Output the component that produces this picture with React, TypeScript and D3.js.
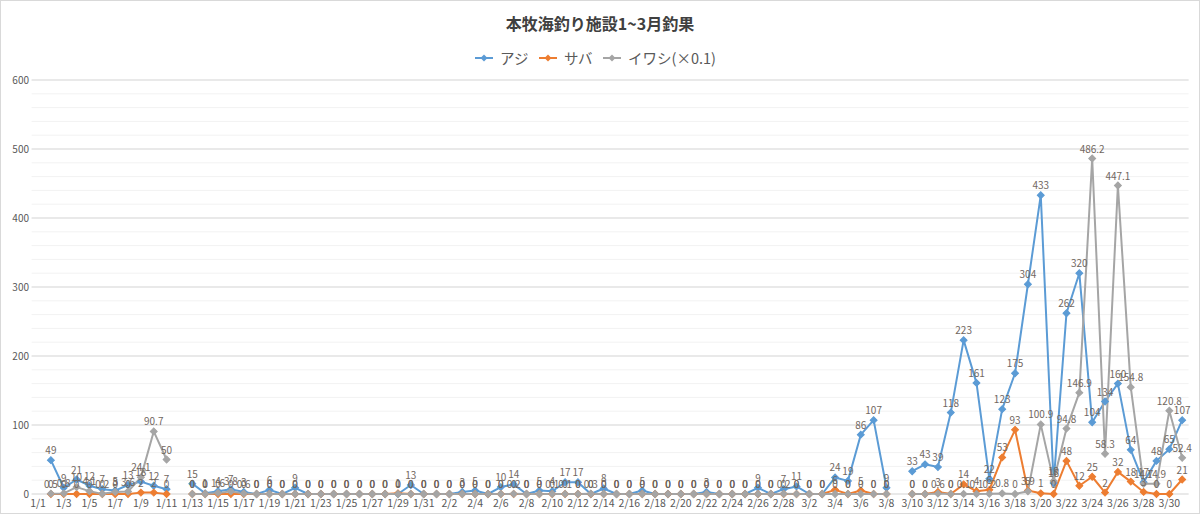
import * as d3 from 'd3';

// categories (1/1 - 3/31)
const dates = [
  '1/1', '1/2', '1/3', '1/4', '1/5', '1/6', '1/7', '1/8', '1/9', '1/10',
  '1/11', '1/12', '1/13', '1/14', '1/15', '1/16', '1/17', '1/18', '1/19', '1/20',
  '1/21', '1/22', '1/23', '1/24', '1/25', '1/26', '1/27', '1/28', '1/29', '1/30', '1/31',
  '2/1', '2/2', '2/3', '2/4', '2/5', '2/6', '2/7', '2/8', '2/9', '2/10',
  '2/11', '2/12', '2/13', '2/14', '2/15', '2/16', '2/17', '2/18', '2/19', '2/20',
  '2/21', '2/22', '2/23', '2/24', '2/25', '2/26', '2/27', '2/28',
  '3/1', '3/2', '3/3', '3/4', '3/5', '3/6', '3/7', '3/8', '3/9', '3/10',
  '3/11', '3/12', '3/13', '3/14', '3/15', '3/16', '3/17', '3/18', '3/19', '3/20',
  '3/21', '3/22', '3/23', '3/24', '3/25', '3/26', '3/27', '3/28', '3/29', '3/30', '3/31',
];

// アジ
const aji = [
  null, 49, 9, 21, 12, 7, 5, 13, 18, 12,
  7, null, 15, 1, 4, 7, 3, 0, 6, 0,
  9, 0, 0, 0, 0, 0, 0, 0, 0, 13, 0,
  0, 0, 3, 5, 0, 10, 14, 0, 5, 4,
  17, 17, 0, 8, 0, 0, 5, 0, 0, 0,
  0, 3, 0, 0, 0, 9, 0, 7,
  11, 0, 0, 24, 19, 86, 107, 9, null, 33,
  43, 39, 118, 223, 161, 22, 123, 175, 304, 433,
  16, 262, 320, 104, 134, 160, 64, 17, 48, 65, 107,
];

// サバ
const saba = [
  null, 0, 0, 0, 0, 0, 0, 0, 2, 2,
  0, null, 0, 0, 0, 0, 0, 0, 0, 0,
  0, 0, 0, 0, 0, 0, 0, 0, 1, 0, 0,
  0, 0, 0, 0, 0, 0, 0, 0, 0, 0,
  0, 0, 0, 0, 0, 0, 0, 0, 0, 0,
  0, 0, 0, 0, 0, 0, 0, 0,
  0, 0, 0, 6, 0, 5, 0, 0, null, 0,
  0, 3, 0, 14, 4, 6, 53, 93, 5, 1,
  0, 48, 12, 25, 2, 32, 18, 3, 0, 0, 21,
];

// イワシ(×0.1)
const iwashi = [
  null, 0.5, 0.8, 10, 4.1, 0.2, 3, 3.6, 24.1, 90.7,
  50, null, 0, 0, 1.6, 3.8, 0.6, 0, 0, 0,
  0, 0, 0, 0, 0, 0, 0, 0, 0, 0, 0,
  0, 0, 0, 0, 0, 0, 0.2, 0, 0, 0.1,
  0.1, 0, 0.3, 0, 0, 0, 0, 0, 0, 0,
  0, 0, 0, 0, 0, 0, 0, 0.2,
  0, 0, 0, 0, 0, 0, 0, 0, null, 0,
  0, 0.6, 0, 0.1, 0.1, 0.2, 0.8, 0, 3.9, 100.9,
  19, 94.8, 146.9, 486.2, 58.3, 447.1, 154.8, 14.7, 14.9, 120.8, 52.4,
];

const seriesNames = ['アジ', 'サバ', 'イワシ(×0.1)'];
const yTicks = [0, 100, 200, 300, 400, 500, 600];

const FONT = "'Noto Sans CJK JP', 'Noto Sans', sans-serif";

export default function App() {
  const x = d3.scaleBand<string>().domain(dates).range([31.6, 1188.6]);
  const cx = (i: number) => (x(dates[i]) as number) + x.bandwidth() / 2;
  const y = d3.scaleLinear().domain([0, 600]).range([494, 80]);

  const series = [
    { name: seriesNames[0], values: aji, color: '#5B9BD5' },
    { name: seriesNames[1], values: saba, color: '#ED7D31' },
    { name: seriesNames[2], values: iwashi, color: '#A5A5A5' },
  ];

  const line = d3.line<number | null>()
    .defined(v => v != null)
    .x((_, i) => cx(i))
    .y(v => y(v as number));

  const diamond = d3.symbol().type(d3.symbolSquare).size(24)() as string;

  const legendX = [475, 539, 603];

  return (
    <svg width={1200} height={514} style={{ position: 'fixed', left: 0, top: 0, fontFamily: FONT }}>
      <rect x={0.5} y={0.5} width={1199} height={513} fill="#fff" stroke="#d9d9d9" />

      {/* gridlines */}
      {y.ticks(30).map(t => (
        <line key={'m' + t} x1={31.6} x2={1188.6} y1={y(t)} y2={y(t)} stroke="#f2f2f2" strokeWidth={1} />
      ))}
      {yTicks.map(t => (
        <line key={'g' + t} x1={31.6} x2={1188.6} y1={y(t)} y2={y(t)} stroke="#d9d9d9" strokeWidth={1} />
      ))}

      {/* y labels */}
      {yTicks.map(t => (
        <text key={'yl' + t} x={29} y={y(t) + 3.5} textAnchor="end" fontSize={10} fill="#595959">{t}</text>
      ))}

      {/* x labels */}
      {dates.map((d, i) => i % 2 === 0 ? (
        <text key={'xl' + d} x={cx(i)} y={507} textAnchor="middle" fontSize={10.5} fill="#595959">{d}</text>
      ) : null)}

      {/* lines */}
      {series.map(s => (
        <path key={'l' + s.name} d={line(s.values) as string} fill="none" stroke={s.color} strokeWidth={2} strokeLinejoin="round" />
      ))}

      {/* markers */}
      {series.map(s => (
        <g key={'mk' + s.name}>
          {s.values.map((v, i) => v == null ? null : (
            <path key={i} d={diamond} transform={`translate(${cx(i)},${y(v)}) rotate(45)`} fill={s.color} stroke={s.color} strokeWidth={1} />
          ))}
        </g>
      ))}

      {/* data labels */}
      {series.map(s => (
        <g key={'dl' + s.name}>
          {s.values.map((v, i) => v == null ? null : (
            <text key={i} x={cx(i)} y={y(v) - 6} textAnchor="middle" fontSize={10} fill="#71675f">{String(v)}</text>
          ))}
        </g>
      ))}

      {/* title */}
      <text x={600} y={30} textAnchor="middle" fontSize={16} fontWeight="bold" fill="#404040">本牧海釣り施設1~3月釣果</text>

      {/* legend */}
      {series.map((s, i) => (
        <g key={'lg' + s.name} transform={`translate(${legendX[i]},58)`}>
          <line x1={0} x2={18} y1={0} y2={0} stroke={s.color} strokeWidth={2} />
          <path d={diamond} transform="translate(9,0) rotate(45)" fill={s.color} />
          <text x={25} y={5.5} fontSize={14.5} fill="#595959">{s.name}</text>
        </g>
      ))}
    </svg>
  );
}
